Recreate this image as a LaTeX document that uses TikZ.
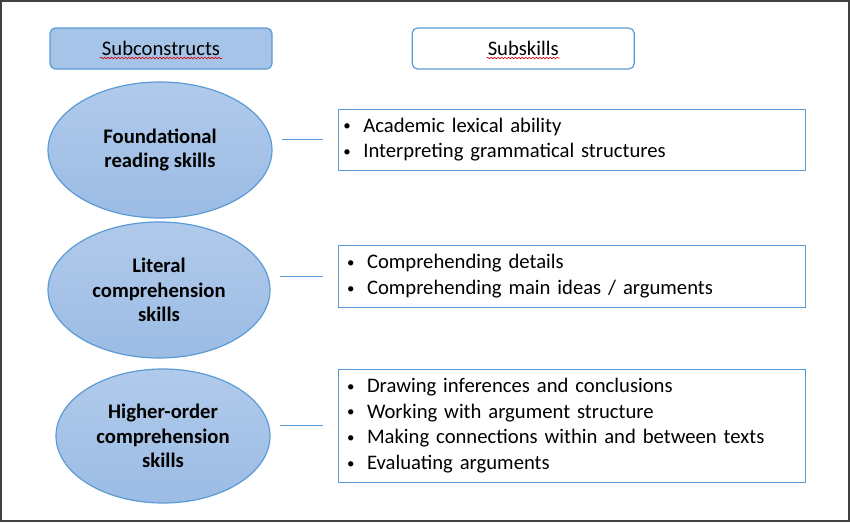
\documentclass[tikz,border=0pt]{standalone}
\usepackage{fontspec}
\setmainfont{Carlito}
\usetikzlibrary{shapes.geometric, positioning, calc, decorations.pathmorphing}
\definecolor{edgeblue}{RGB}{91,155,213}
\definecolor{ovaltop}{RGB}{176,202,235}
\definecolor{ovalbot}{RGB}{156,188,228}
\definecolor{headfill}{RGB}{166,195,232}
\definecolor{framegray}{RGB}{64,64,64}
\newcommand{\skillitem}[1]{\makebox[15pt][l]{\raisebox{0.9pt}{\scalebox{0.72}{\textbullet}}}#1}
\tikzset{
  head/.style={rectangle, draw=edgeblue, line width=0.9pt, rounded corners=4pt,
    minimum width=166.5pt, minimum height=30.75pt, font=\fontsize{15.5}{18}\selectfont},
  headfilled/.style={head, fill=headfill},
  oval/.style={ellipse, draw=edgeblue, line width=0.9pt, top color=ovaltop,
    bottom color=ovalbot, align=center, inner sep=0pt,
    font=\fontsize{15.5}{18.3}\selectfont\bfseries},
  skillbox/.style={rectangle, draw=edgeblue, line width=0.75pt, fill=white,
    minimum width=350.25pt, align=left, font=\fontsize{15.5}{19.2}\selectfont},
  link/.style={draw=edgeblue, line width=0.75pt, shorten <=6.75pt, shorten >=11.25pt},
  spell/.style={red!85!black, line width=0.45pt, decorate,
    decoration={snake, amplitude=0.6pt, segment length=2.6pt}},
  frame/.style={draw=framegray, line width=1.5pt},
}
\begin{document}
\begin{tikzpicture}[x=0.75pt, y=-0.75pt]
\useasboundingbox (0,0) rectangle (850,522);
\draw[frame] (1,1) rectangle (849,521);

% column heads
\node[headfilled] (hcon) at (161,48.5) {Subconstructs};
\node[head, right=104.25pt of hcon] (hskl) {Subskills};
\draw[spell] ($(hcon.center)+(-61,9.5)$) -- ($(hcon.center)+(61,9.5)$);
\draw[spell] ($(hskl.center)+(-36.5,9.5)$) -- ($(hskl.center)+(36.5,9.5)$);

% subconstructs
\node[oval, minimum width=168pt, minimum height=102pt] (found) at (160,150) {Foundational\\reading skills};
\node[oval, minimum width=166.5pt, minimum height=102pt] (literal) at (159,290) {Literal\\comprehension\\skills};
\node[oval, minimum width=160.5pt, minimum height=100.5pt] (higher) at (163,436) {Higher-order\\comprehension\\skills};

% subskills
\node[skillbox, minimum height=45.75pt, inner xsep=4pt, text width=342.25pt] (skfound) at (571.5,139.5)
  {\skillitem{Academic lexical ability}\\\skillitem{Interpreting grammatical structures}};
\node[skillbox, minimum height=46.5pt, inner xsep=6.75pt, text width=336.75pt] (skliteral) at (571.5,276)
  {\skillitem{Comprehending details}\\\skillitem{Comprehending main ideas / arguments}};
\node[skillbox, minimum height=84.75pt, inner xsep=6.75pt, text width=336.75pt] (skhigher) at (571.5,425.5)
  {\skillitem{Drawing inferences and conclusions}\\\skillitem{Working with argument structure}\\
   \skillitem{Making connections within and between texts}\\\skillitem{Evaluating arguments}};

\draw[link] (skfound.west -| found.east) -- (skfound.west);
\draw[link] (skliteral.west -| literal.east) -- (skliteral.west);
\draw[link] (skhigher.west -| higher.east) -- (skhigher.west);

\end{tikzpicture}
\end{document}
